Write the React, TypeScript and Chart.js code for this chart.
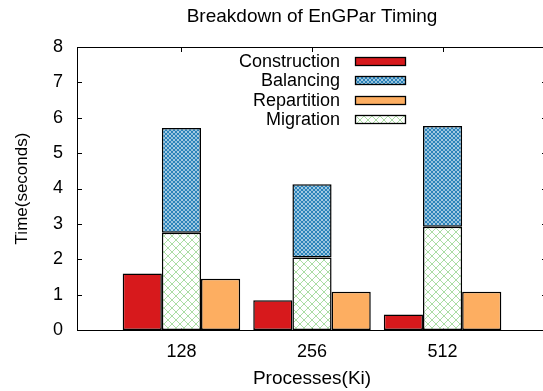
import React, { useEffect, useRef } from 'react';
import { Chart, registerables } from 'chart.js';

Chart.register(...registerables);

// ---- data ----
const categories = ['128', '256', '512'];
const construction = [1.6, 0.84, 0.44];
const migration = [2.75, 2.05, 2.92];
const balancing = [2.96, 2.07, 2.85];
const repartition = [1.45, 1.08, 1.08];
const yTicks = [0, 1, 2, 3, 4, 5, 6, 7, 8];
const legendOrder = ['Construction', 'Balancing', 'Repartition', 'Migration'];
const chartTitle = 'Breakdown of EnGPar Timing';
const xTitle = 'Processes(Ki)';
const yTitle = 'Time(seconds)';

const FONT = "'Liberation Sans', Arial, Helvetica, sans-serif";

function crosshatch(color: string, period: number, lw: number) {
  const c = document.createElement('canvas');
  c.width = period;
  c.height = period;
  const g = c.getContext('2d')!;
  g.fillStyle = '#ffffff';
  g.fillRect(0, 0, period, period);
  g.strokeStyle = color;
  g.lineWidth = lw;
  for (const o of [-period, 0, period]) {
    g.beginPath();
    g.moveTo(o, 0);
    g.lineTo(o + period, period);
    g.stroke();
    g.beginPath();
    g.moveTo(o + period, 0);
    g.lineTo(o, period);
    g.stroke();
  }
  return g.createPattern(c, 'repeat')!;
}

const framePlugin = {
  id: 'frame',
  beforeDatasetsDraw(chart: any) {
    const { ctx, chartArea: a, scales } = chart;
    const x = scales.x;
    const y = scales.y;
    ctx.save();
    ctx.strokeStyle = '#000';
    ctx.lineWidth = 1;
    ctx.beginPath();
    yTicks.forEach((v) => {
      const py = Math.round(y.getPixelForValue(v)) + 0.5;
      ctx.moveTo(a.left, py);
      ctx.lineTo(a.left + 5, py);
      ctx.moveTo(a.right, py);
      ctx.lineTo(a.right - 5, py);
    });
    categories.forEach((_, i) => {
      const px = Math.round(x.getPixelForValue(i)) + 0.5;
      ctx.moveTo(px, a.top);
      ctx.lineTo(px, a.top + 5);
      ctx.moveTo(px, a.bottom);
      ctx.lineTo(px, a.bottom - 5);
    });
    ctx.stroke();
    ctx.restore();
  },
  afterDatasetsDraw(chart: any) {
    const { ctx, chartArea: a } = chart;
    ctx.save();
    ctx.strokeStyle = '#000';
    ctx.lineWidth = 1;
    ctx.strokeRect(Math.round(a.left) + 0.5, Math.round(a.top) + 0.5, Math.round(a.right - a.left), Math.round(a.bottom - a.top));
    // legend
    ctx.font = `18px ${FONT}`;
    ctx.textAlign = 'right';
    ctx.textBaseline = 'middle';
    const textRight = a.left + 263;
    legendOrder.forEach((label, i) => {
      const ds = chart.data.datasets.find((d: any) => d.label === label);
      const cy = a.top + 14 + i * 19.3;
      ctx.fillStyle = '#000';
      ctx.fillText(label, textRight, cy + 1);
      const sx = Math.round(textRight + 15) + 0.5;
      const sy = Math.round(cy - 4) + 0.5;
      ctx.fillStyle = ds.backgroundColor;
      ctx.fillRect(sx, sy, 50, 8);
      ctx.lineWidth = 1.3;
      ctx.strokeRect(sx, sy, 50, 8);
    });
    ctx.restore();
  },
};

export default function App() {
  const ref = useRef<HTMLCanvasElement>(null);

  useEffect(() => {
    if (!ref.current) return;
    Chart.defaults.font.family = FONT;
    Chart.defaults.font.size = 18;
    Chart.defaults.color = '#000';

    const green = crosshatch('#abdda4', 8, 1);
    const blue = crosshatch('#2b83ba', 4, 1.3);
    const toPts = (arr: number[]) => arr.map((v, i) => ({ x: i, y: v }));
    const common = { borderColor: '#000', borderWidth: 1.5, borderSkipped: false as const };

    const chart = new Chart(ref.current, {
      type: 'bar',
      data: {
        datasets: [
          { label: 'Construction', data: toPts(construction), backgroundColor: '#d7191c', stack: 'c', ...common },
          { label: 'Migration', data: toPts(migration), backgroundColor: green as any, stack: 's', ...common },
          { label: 'Balancing', data: toPts(balancing), backgroundColor: blue as any, stack: 's', ...common },
          { label: 'Repartition', data: toPts(repartition), backgroundColor: '#fdae61', stack: 'r', ...common },
        ],
      },
      options: {
        responsive: false,
        animation: false,
        devicePixelRatio: 1,
        layout: { padding: 0 },
        datasets: { bar: { categoryPercentage: 0.9, barPercentage: 1.0 } },
        plugins: {
          legend: { display: false },
          tooltip: { enabled: false },
          title: {
            display: true,
            text: chartTitle,
            fullSize: false,
            color: '#000',
            font: { size: 19, weight: 'normal', family: FONT },
            padding: { top: 5.6, bottom: 18.6 },
          },
        },
        scales: {
          x: {
            type: 'linear',
            min: -0.8,
            max: 2.8,
            offset: false,
            grid: { display: false, drawTicks: false, offset: false },
            border: { display: false },
            afterBuildTicks: (s: any) => {
              s.ticks = categories.map((_, i) => ({ value: i }));
            },
            afterFit: (s: any) => {
              s.height = 61;
            },
            ticks: {
              padding: 11,
              color: '#000',
              autoSkip: false,
              maxRotation: 0,
              callback: (v: any) => categories[v as number],
            },
            title: { display: true, text: xTitle, color: '#000', font: { size: 19 }, padding: { top: 0, bottom: 1 } },
          },
          y: {
            type: 'linear',
            stacked: true,
            min: 0,
            max: 8,
            grid: { display: false, drawTicks: false },
            border: { display: false },
            afterBuildTicks: (s: any) => {
              s.ticks = yTicks.map((v) => ({ value: v }));
            },
            afterFit: (s: any) => {
              s.width = 77;
            },
            ticks: { padding: 14, color: '#000' },
            title: { display: true, text: yTitle, color: '#000', font: { size: 17 }, padding: { top: 12, bottom: 0 } },
          },
        },
      },
      plugins: [framePlugin],
    });
    return () => chart.destroy();
  }, []);

  return (
    <div style={{ position: 'absolute', left: 0, top: 0, width: 543, height: 391, overflow: 'hidden', background: '#fff' }}>
      <canvas ref={ref} width={547} height={391} style={{ display: 'block' }} />
    </div>
  );
}
